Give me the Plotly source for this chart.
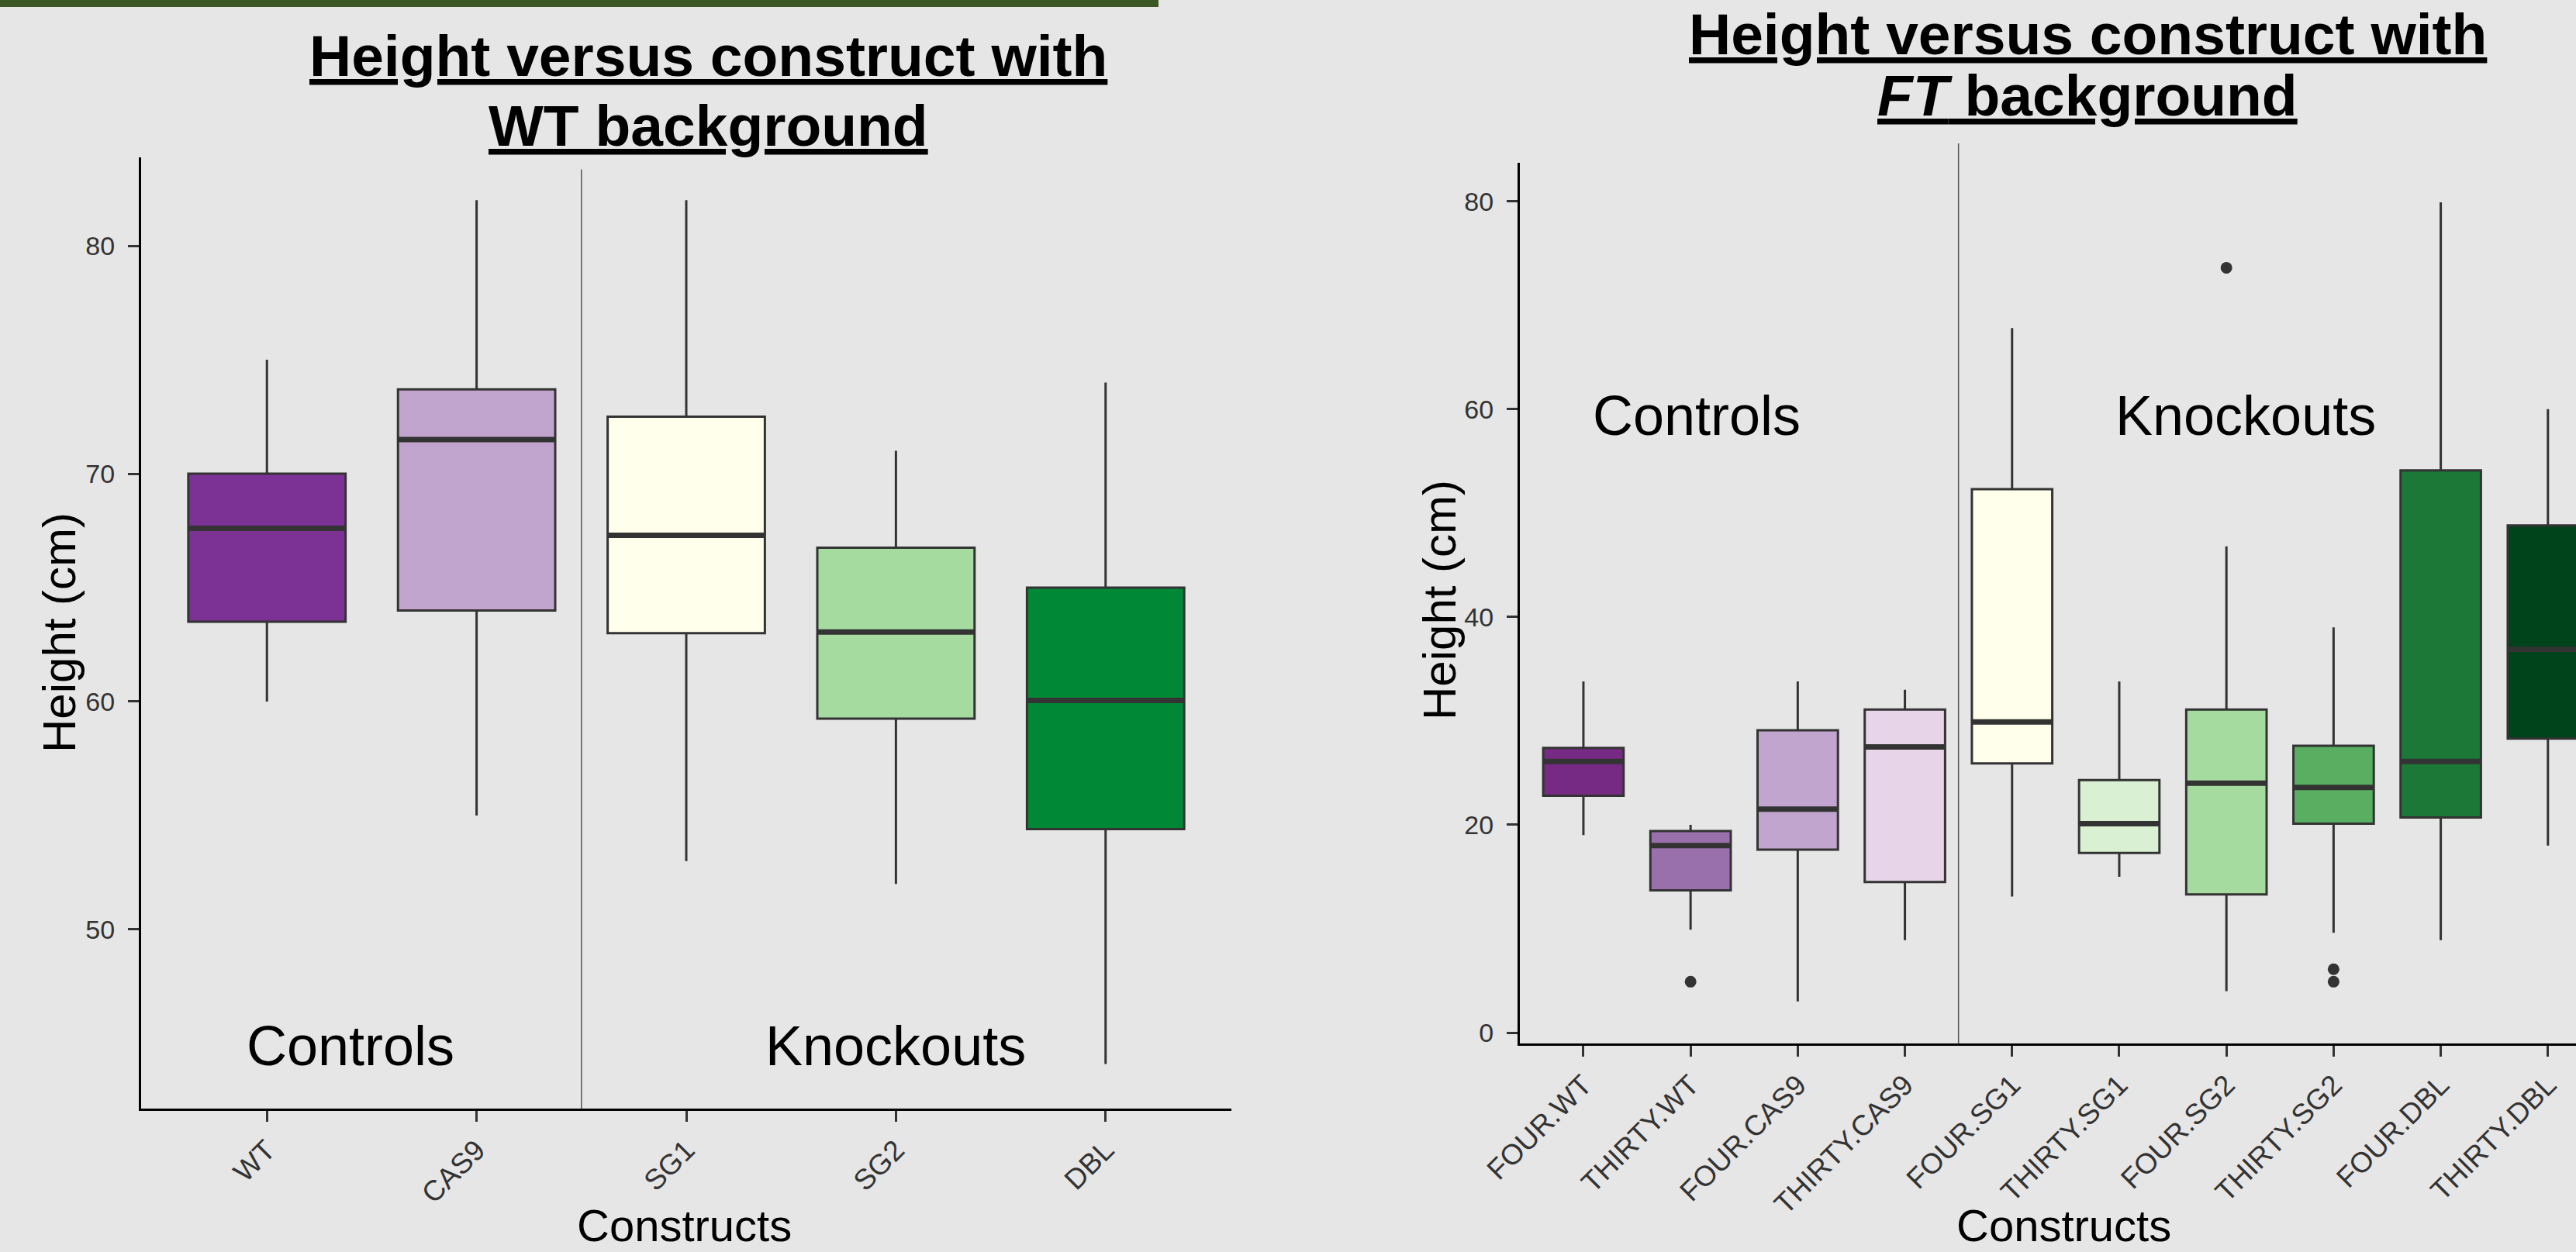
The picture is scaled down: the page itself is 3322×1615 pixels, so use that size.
import plotly.graph_objects as go

# ---------------- data ----------------
left_categories = ["WT", "CAS9", "SG1", "SG2", "DBL"]
left_low = [60.0, 55.0, 53.0, 52.0, 44.1]
left_q1 = [63.5, 64.0, 63.0, 59.25, 54.4]
left_median = [67.6, 71.5, 67.3, 63.05, 60.05]
left_q3 = [70.0, 73.7, 72.5, 66.75, 65.0]
left_high = [75.0, 82.0, 82.0, 71.0, 74.0]
left_colors = ["#7B3294", "#C2A5CF", "#FFFFEB", "#A6DBA0", "#008837"]

right_categories = ["FOUR.WT", "THIRTY.WT", "FOUR.CAS9", "THIRTY.CAS9", "FOUR.SG1",
                    "THIRTY.SG1", "FOUR.SG2", "THIRTY.SG2", "FOUR.DBL", "THIRTY.DBL"]
right_low = [19.0, 9.9, 3.0, 8.9, 13.1, 15.0, 4.0, 9.6, 8.9, 18.0]
right_q1 = [22.8, 13.7, 17.6, 14.5, 25.9, 17.3, 13.3, 20.1, 20.7, 28.3]
right_median = [26.1, 18.0, 21.5, 27.5, 29.9, 20.1, 24.0, 23.6, 26.1, 36.9]
right_q3 = [27.4, 19.4, 29.1, 31.1, 52.3, 24.3, 31.1, 27.6, 54.1, 48.8]
right_high = [33.8, 20.0, 33.8, 33.0, 67.8, 33.8, 46.8, 39.0, 79.9, 60.0]
right_colors = ["#762A83", "#9970AB", "#C2A5CF", "#E7D4E8", "#FFFFEB",
                "#D9F0D3", "#A6DBA0", "#5AAE61", "#1B7837", "#00441B"]
right_outlier_idx = [1, 6, 7, 7]
right_outlier_val = [4.9, 73.6, 6.1, 4.9]

left_tickvals = [50, 60, 70, 80]
right_tickvals = [0, 20, 40, 60, 80]

# ---------------- styling ----------------
BG = "#E6E6E6"
EDGE = "#333333"
BOX_W = 0.75
W, H = 3322, 1615

fig = go.Figure()


def add_boxes(cats, low, q1, med, q3, high, colors, xa, ya):
    for i in range(len(cats)):
        fig.add_trace(go.Box(
            x=[i], q1=[q1[i]], median=[med[i]], q3=[q3[i]],
            lowerfence=[low[i]], upperfence=[high[i]],
            width=BOX_W, fillcolor=colors[i], whiskerwidth=0,
            line=dict(color=EDGE, width=3), boxpoints=False,
            xaxis=xa, yaxis=ya, showlegend=False, name=cats[i]))
    # thicker median bars (ggplot style)
    mx, my = [], []
    for i in range(len(cats)):
        mx += [i - BOX_W / 2, i + BOX_W / 2, None]
        my += [med[i], med[i], None]
    fig.add_trace(go.Scatter(x=mx, y=my, mode="lines",
                             line=dict(color=EDGE, width=7),
                             xaxis=xa, yaxis=ya, showlegend=False,
                             hoverinfo="skip"))


add_boxes(left_categories, left_low, left_q1, left_median, left_q3, left_high,
          left_colors, "x", "y")
add_boxes(right_categories, right_low, right_q1, right_median, right_q3, right_high,
          right_colors, "x2", "y2")

fig.add_trace(go.Scatter(x=right_outlier_idx, y=right_outlier_val, mode="markers",
                         marker=dict(color=EDGE, size=15),
                         xaxis="x2", yaxis="y2", showlegend=False))

# domains from pixel positions
L_X = [182 / W, 1588 / W]
L_Y = [1 - 1430 / H, 1 - 203 / H]
R_X = [1960 / W, 1.0]
R_Y = [1 - 1346 / H, 1 - 210 / H]

axis_common = dict(showline=True, linecolor="black", linewidth=3,
                   ticks="outside", ticklen=14, tickwidth=3, tickcolor=EDGE,
                   showgrid=False, zeroline=False, mirror=False, automargin=False)
xtick_font = dict(family="Liberation Sans, Arial, sans-serif", size=37, color="#333333")
ytick_font = dict(family="Liberation Sans Narrow, Arial Narrow, Liberation Sans, Arial, sans-serif",
                  size=34, color="#333333")

fig.update_layout(
    width=W, height=H,
    margin=dict(l=0, r=0, t=0, b=0, pad=0, autoexpand=False),
    paper_bgcolor=BG, plot_bgcolor=BG,
    boxmode="overlay",
    showlegend=False,
    xaxis=dict(domain=L_X, anchor="y", range=[-0.6, len(left_categories) - 0.4],
               tickmode="array", tickvals=list(range(len(left_categories))),
               ticktext=left_categories, tickangle=-45, tickfont=xtick_font,
               **axis_common),
    yaxis=dict(domain=L_Y, anchor="x", range=[42.14, 83.88],
               tickmode="array", tickvals=left_tickvals, tickfont=ytick_font,
               ticklabelstandoff=10, **axis_common),
    xaxis2=dict(domain=R_X, anchor="y2", range=[-0.593, 9.262],
                tickmode="array", tickvals=list(range(len(right_categories))),
                ticktext=right_categories, tickangle=-45, tickfont=xtick_font,
                **axis_common),
    yaxis2=dict(domain=R_Y, anchor="x2", range=[-1.04, 83.7],
                tickmode="array", tickvals=right_tickvals, tickfont=ytick_font,
                ticklabelstandoff=10, **axis_common),
)

# group dividers
fig.add_shape(type="line", xref="x", yref="y", x0=1.5, x1=1.5, y0=42.14, y1=83.35,
              line=dict(color="#555555", width=1.5))
fig.add_shape(type="line", xref="x2", yref="paper", x0=3.5, x1=3.5,
              y0=R_Y[0], y1=1 - 185 / H, line=dict(color="#555555", width=1.5))

# green bar at top-left of slide
fig.add_shape(type="rect", xref="paper", yref="paper", x0=0, x1=1494 / W,
              y0=1 - 9 / H, y1=1.0, fillcolor="#3A5724", line=dict(width=0))

title_font = dict(family="Liberation Sans, Arial, sans-serif", size=75, color="black")
label_font = dict(family="Liberation Sans, Arial, sans-serif", size=72, color="black")
axis_title_font = dict(family="Liberation Sans, Arial, sans-serif", size=60, color="black")
x_title_font = dict(family="Liberation Sans, Arial, sans-serif", size=58, color="black")

annos = [
    dict(text="<b><u>Height versus construct with</u></b>", x=913 / W, y=1 - 72 / H,
         yanchor="middle", font=title_font),
    dict(text="<b><u>WT background</u></b>", x=913 / W, y=1 - 162 / H,
         yanchor="middle", font=title_font),
    dict(text="<b><u>Height versus construct with</u></b>", x=2692 / W, y=1.0,
         yanchor="top", font=title_font),
    dict(text="<b><u><i>FT</i> background</u></b>", x=2692 / W, y=1 - 123 / H,
         yanchor="middle", font=title_font),
    dict(text="Height (cm)", x=76 / W, y=1 - 816 / H, yanchor="middle",
         font=axis_title_font, textangle=-90),
    dict(text="Height (cm)", x=1856 / W, y=1 - 774 / H, yanchor="middle",
         font=axis_title_font, textangle=-90),
    dict(text="Constructs", x=882 / W, y=0.0, yanchor="bottom", font=x_title_font),
    dict(text="Constructs", x=2661 / W, y=0.0, yanchor="bottom", font=x_title_font),
]
for a in annos:
    fig.add_annotation(xref="paper", yref="paper", xanchor="center",
                       showarrow=False, **a)

fig.add_annotation(text="Controls", x=0.4, y=44.9, xref="x", yref="y",
                   showarrow=False, font=label_font)
fig.add_annotation(text="Knockouts", x=3.0, y=44.9, xref="x", yref="y",
                   showarrow=False, font=label_font)
fig.add_annotation(text="Controls", x=1.056, y=59.4, xref="x2", yref="y2",
                   showarrow=False, font=label_font)
fig.add_annotation(text="Knockouts", x=6.18, y=59.4, xref="x2", yref="y2",
                   showarrow=False, font=label_font)

fig.write_html("out.html")
